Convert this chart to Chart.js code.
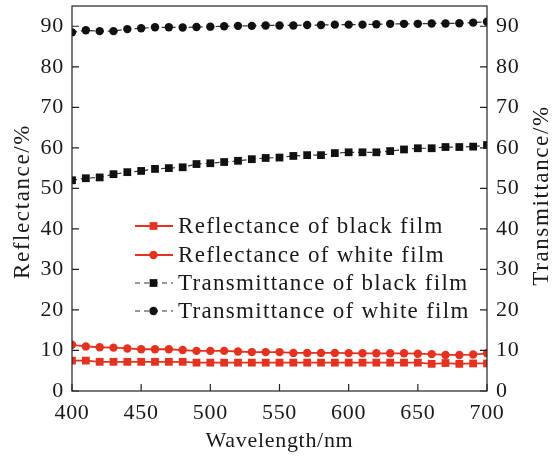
<!DOCTYPE html>
<html>
<head>
<meta charset="utf-8">
<script src="https://cdn.jsdelivr.net/npm/chart.js@4.4.0/dist/chart.umd.min.js"></script>
<style>html,body{margin:0;padding:0;background:#fff;}canvas{display:block;}</style>
</head>
<body>
<canvas id="c" width="556" height="459"></canvas>
<script>
const wavelengths = [400,410,420,430,440,450,460,470,480,490,500,510,520,530,540,550,560,570,580,590,600,610,620,630,640,650,660,670,680,690,700];
const reflBlack = [7.5,7.5,7.2,7.2,7.2,7.2,7.2,7.2,7.2,7.0,7.0,7.0,7.0,7.0,7.0,7.0,7.0,7.0,7.0,7.0,7.0,7.0,7.0,7.0,7.0,7.0,6.7,6.9,6.7,6.8,6.8];
const reflWhite = [11.4,11.0,10.8,10.7,10.5,10.3,10.3,10.3,10.1,9.9,9.9,9.9,9.75,9.6,9.6,9.6,9.4,9.4,9.4,9.4,9.35,9.3,9.3,9.3,9.3,9.2,9.1,8.9,8.9,9.0,9.3];
const transBlack = [52.0,52.5,52.7,53.5,54.0,54.3,54.8,55.0,55.2,56.0,56.2,56.5,56.8,57.2,57.5,57.6,58.0,58.2,58.2,58.7,58.9,58.9,58.9,59.2,59.6,59.9,59.9,60.2,60.2,60.3,60.7];
const transWhite = [88.5,89.0,88.8,88.8,89.3,89.5,89.75,89.75,89.7,89.8,89.9,90.0,90.1,90.1,90.2,90.2,90.2,90.3,90.3,90.4,90.4,90.4,90.5,90.6,90.6,90.6,90.7,90.7,90.75,90.9,91.1];
const seriesNames = ['Reflectance of black film','Reflectance of white film','Transmittance of black film','Transmittance of white film'];
const xTicks = [400,450,500,550,600,650,700];
const yTicks = [0,10,20,30,40,50,60,70,80,90];
const xTitle = 'Wavelength/nm';
const leftTitle = 'Reflectance/%';
const rightTitle = 'Transmittance/%';

const RED = '#e3321f';
const FONT = "'Liberation Serif', 'Times New Roman', serif";

function pts(ys){ return wavelengths.map((x,i)=>({x:x,y:ys[i]})); }

function drawVTitle(ctx, text, x, y){
  ctx.save();
  ctx.fillStyle = '#1a1a1a';
  ctx.font = "23px " + FONT;
  try { ctx.letterSpacing = '1.6px'; } catch(e){}
  ctx.translate(x, y);
  ctx.rotate(-Math.PI/2);
  ctx.textAlign = 'center';
  ctx.textBaseline = 'middle';
  ctx.fillText(text, 0, 0);
  ctx.restore();
}

const framePlugin = {
  id:'frame',
  beforeDraw(chart){
    try { chart.ctx.letterSpacing = '0.7px'; } catch(e){}
  },
  afterDatasetsDraw(chart){
    const {ctx, chartArea:a, scales} = chart;
    ctx.save();
    ctx.strokeStyle = '#222';
    ctx.lineWidth = 1.2;
    ctx.strokeRect(a.left, a.top, a.right-a.left, a.bottom-a.top);
    const L = 7;
    ctx.beginPath();
    xTicks.forEach(v=>{
      const px = scales.x.getPixelForValue(v);
      ctx.moveTo(px, a.bottom); ctx.lineTo(px, a.bottom-L);
    });
    yTicks.forEach(v=>{
      const py = scales.y.getPixelForValue(v);
      ctx.moveTo(a.left, py); ctx.lineTo(a.left+L, py);
      const py2 = scales.y2.getPixelForValue(v);
      ctx.moveTo(a.right, py2); ctx.lineTo(a.right-L, py2);
    });
    ctx.stroke();
    ctx.restore();
  },
  afterDraw(chart){
    const {ctx, chartArea:a} = chart;
    const rows = [226, 255, 283, 311];
    ctx.save();
    chart.data.datasets.forEach((ds,i)=>{
      const y = rows[i];
      ctx.save();
      ctx.strokeStyle = ds.borderColor;
      ctx.lineWidth = ds.borderWidth;
      ctx.setLineDash(ds.borderDash || []);
      ctx.beginPath();
      ctx.moveTo(135, y); ctx.lineTo(173, y);
      ctx.stroke();
      ctx.restore();
      ctx.save();
      ctx.fillStyle = ds.pointBackgroundColor;
      Chart.helpers.drawPoint(ctx, {pointStyle: ds.pointStyle, radius: ds.pointRadius, borderWidth: 0, rotation: 0}, 153.5, y);
      ctx.restore();
      ctx.save();
      ctx.fillStyle = '#1a1a1a';
      ctx.font = "23px " + FONT;
      try { ctx.letterSpacing = '1.3px'; } catch(e){}
      ctx.textBaseline = 'middle';
      ctx.textAlign = 'left';
      ctx.fillText(ds.label, 178, y+1);
      ctx.restore();
    });
    const cy = (a.top + a.bottom)/2;
    drawVTitle(ctx, leftTitle, 23, cy + 3);
    drawVTitle(ctx, rightTitle, 542, cy - 3);
    ctx.restore();
  }
};

function noPadV(s){ s.paddingTop = 0; s.paddingBottom = 0; }

new Chart(document.getElementById('c'), {
  type:'line',
  data:{
    datasets:[
      {label:seriesNames[0], data:pts(reflBlack), borderColor:RED, borderWidth:1.8, pointStyle:'rect', pointRadius:5.5, pointBackgroundColor:RED, pointBorderWidth:0, yAxisID:'y'},
      {label:seriesNames[1], data:pts(reflWhite), borderColor:RED, borderWidth:1.8, pointStyle:'circle', pointRadius:4.2, pointBackgroundColor:RED, pointBorderWidth:0, yAxisID:'y'},
      {label:seriesNames[2], data:pts(transBlack), borderColor:'#333', borderWidth:1.2, borderDash:[5,4], pointStyle:'rect', pointRadius:5.5, pointBackgroundColor:'#111', pointBorderWidth:0, yAxisID:'y2'},
      {label:seriesNames[3], data:pts(transWhite), borderColor:'#333', borderWidth:1.2, borderDash:[5,4], pointStyle:'circle', pointRadius:4.2, pointBackgroundColor:'#111', pointBorderWidth:0, yAxisID:'y2'}
    ]
  },
  options:{
    responsive:false,
    animation:false,
    devicePixelRatio:1,
    layout:{padding:{top:6,left:0,right:0,bottom:0}},
    plugins:{legend:{display:false}, tooltip:{enabled:false}},
    scales:{
      x:{type:'linear', min:400, max:700,
        afterBuildTicks(s){ s.ticks = xTicks.map(v=>({value:v})); },
        afterFit(s){ s.height = 68; s.paddingLeft = 0; s.paddingRight = 0; },
        grid:{display:false, drawTicks:false}, border:{display:false},
        ticks:{padding:9, color:'#1a1a1a', font:{family:FONT, size:22}, maxRotation:0},
        title:{display:true, text:xTitle, color:'#1a1a1a', font:{family:FONT, size:22}, padding:{top:0,bottom:5}}
      },
      y:{type:'linear', position:'left', min:0, max:95,
        afterBuildTicks(s){ s.ticks = yTicks.map(v=>({value:v})); },
        afterFit(s){ s.width = 72; noPadV(s); },
        grid:{display:false, drawTicks:false}, border:{display:false},
        ticks:{padding:8, color:'#1a1a1a', font:{family:FONT, size:22}},
        title:{display:false}
      },
      y2:{type:'linear', position:'right', min:0, max:95,
        afterBuildTicks(s){ s.ticks = yTicks.map(v=>({value:v})); },
        afterFit(s){ s.width = 69; noPadV(s); },
        grid:{display:false, drawTicks:false}, border:{display:false},
        ticks:{padding:9, color:'#1a1a1a', font:{family:FONT, size:22}},
        title:{display:false}
      }
    }
  },
  plugins:[framePlugin]
});
</script>
</body>
</html>
